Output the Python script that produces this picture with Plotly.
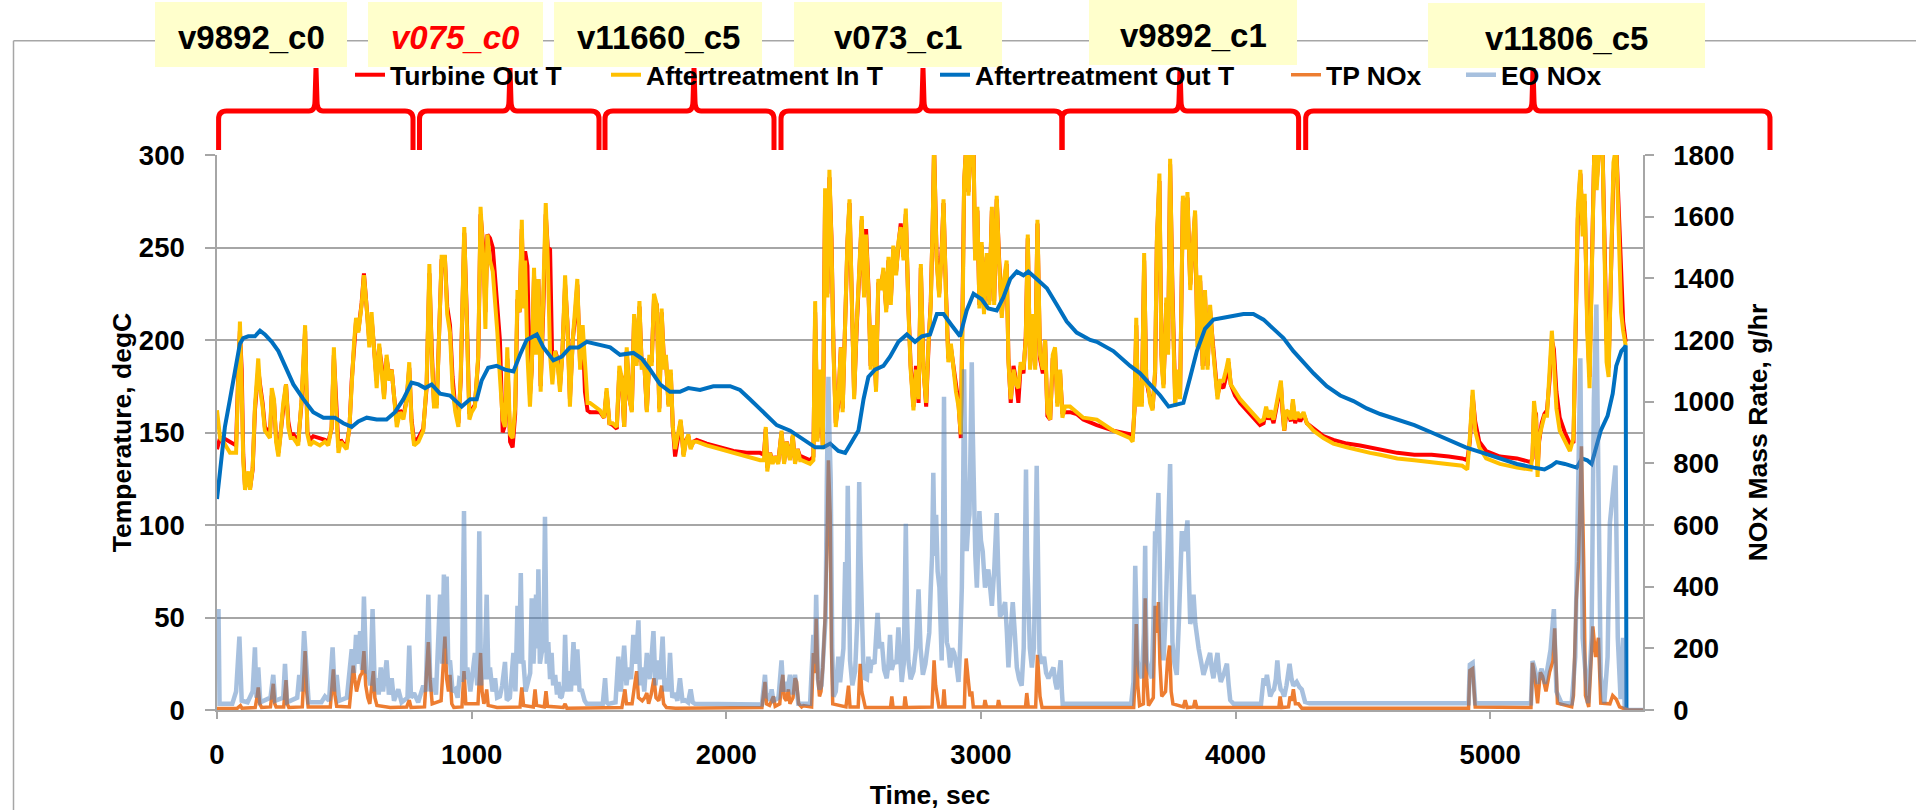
import plotly.graph_objects as go

# ---------------- data ----------------
time_T = [
    0, 12, 25, 51, 75, 84, 90, 97, 103, 110, 123, 130, 140, 149, 162, 169, 179, 188, 198, 208,
    215, 224, 232, 241, 250, 260, 271, 280, 289, 300, 310, 319, 332, 346, 355, 365, 378, 404, 424, 437,
    450, 459, 467, 477, 486, 496, 509, 520, 529, 538, 546, 555, 568, 577, 588, 598, 607, 617, 627, 637,
    647, 656, 666, 677, 686, 695, 706, 719, 732, 745, 755, 764, 774, 791, 810, 823, 834, 843, 852, 863,
    873, 882, 895, 904, 915, 925, 936, 948, 957, 965, 971, 980, 991, 1000, 1013, 1026, 1035, 1046, 1054, 1062,
    1072, 1083, 1092, 1101, 1111, 1122, 1131, 1140,
    1151, 1161, 1171, 1180, 1188, 1197, 1203, 1210, 1219, 1229, 1236, 1245, 1253, 1262, 1271, 1282, 1291, 1299, 1308, 1317,
    1328, 1337, 1347, 1356, 1367, 1376, 1386, 1397, 1406, 1415, 1426, 1436, 1445, 1455, 1465, 1485, 1504, 1520, 1530, 1541,
    1554, 1570, 1580, 1589, 1599, 1609, 1620, 1629, 1638, 1648, 1659, 1668, 1677, 1688, 1698, 1707, 1716, 1727, 1737, 1746,
    1756, 1763, 1773, 1782, 1790, 1799, 1812, 1821, 1832, 1842, 1851, 1860, 1871, 1884, 1923, 1976, 2028, 2080, 2133, 2148,
    2155, 2161, 2172, 2182, 2191, 2204, 2217, 2227, 2237, 2250, 2261, 2270, 2280, 2290,
    2296, 2329, 2342, 2349, 2358, 2368, 2379, 2388, 2397, 2405, 2413, 2421, 2430, 2440, 2450, 2457, 2467, 2476, 2484, 2493,
    2502, 2512, 2523, 2532, 2541, 2549, 2558, 2567, 2578, 2588, 2597, 2607, 2617, 2628, 2637, 2646, 2656, 2667, 2676, 2685,
    2696, 2705, 2715, 2724, 2735, 2745, 2755, 2764, 2774, 2785, 2794, 2803, 2811, 2816, 2826, 2836, 2846, 2853, 2863, 2872,
    2882, 2892, 2902, 2912, 2921, 2929, 2934, 2942, 2951, 2960, 2971, 2977, 2986, 2994, 3003, 3012, 3023, 3033, 3043, 3052,
    3062, 3071, 3082, 3091, 3101, 3108, 3117, 3128, 3138, 3147, 3156, 3167, 3176, 3184, 3193, 3204, 3213, 3222, 3232, 3243,
    3252, 3261, 3272, 3282, 3291, 3300, 3311, 3320, 3330, 3350, 3376, 3402,
    3455, 3520, 3586, 3596, 3603, 3610, 3616, 3625, 3632, 3641, 3649, 3658, 3664, 3674, 3684, 3691, 3701, 3709, 3717, 3728,
    3735, 3743, 3752, 3763, 3772, 3782, 3793, 3802, 3811, 3822, 3831, 3841, 3850, 3861, 3871, 3880, 3890, 3900, 3911, 3920,
    3929, 3939, 3952, 3963, 3972, 3981, 3998, 4018, 4044, 4070, 4096, 4110, 4120, 4129, 4138, 4149, 4162, 4170, 4178, 4184,
    4191, 4199, 4208, 4217, 4225, 4234, 4243, 4254, 4267, 4280, 4306, 4345, 4384, 4437, 4489, 4528,
    4568, 4635, 4702, 4770, 4837, 4890, 4910, 4920, 4931, 4941, 4957, 4984, 5038, 5105, 5159, 5166, 5172, 5180, 5186, 5192,
    5202, 5213, 5223, 5233, 5242, 5250, 5260, 5273, 5293, 5313, 5327, 5336, 5344, 5354, 5363, 5371, 5381, 5390, 5401, 5409,
    5418, 5428, 5441, 5448, 5457, 5465, 5475, 5484, 5495, 5504, 5514, 5522, 5532,
]

turbine_out_T = [
    141, 147, 147, 145, 143, 185, 205, 184, 138, 121, 128, 120, 130, 162, 184, 176, 166, 153, 151, 149,
    170, 166, 147, 139, 150, 164, 176, 156, 149, 149, 147, 145, 166, 205, 150, 146, 148, 147, 146, 145,
    152, 192, 168, 142, 146, 144, 143, 152, 178, 196, 210, 205, 220, 236, 220, 200, 212, 195, 178, 196,
    186, 170, 190, 180, 184, 170, 156, 162, 159, 168, 185, 157, 145, 147, 152, 174, 236, 196, 166, 166,
    205, 243, 244, 218, 208, 180, 163, 155, 178, 228, 258, 218, 160, 162, 165, 190, 268, 250, 215, 257,
    255, 250, 233, 218, 200, 150, 154, 190,
    145, 142, 160, 222, 215, 260, 225, 248, 240, 170, 184, 235, 200, 233, 175, 219, 268, 250, 249, 185,
    194, 190, 175, 192, 230, 210, 168, 200, 212, 230, 186, 205, 172, 162, 161, 161, 161, 158, 172, 155,
    154, 152, 183, 180, 153, 194, 168, 162, 212, 188, 218, 186, 190, 162, 190, 188, 222, 219, 163, 215,
    186, 190, 165, 182, 153, 137, 150, 156, 138, 146, 148, 142, 145, 146, 144, 142, 140, 139, 139, 138,
    152, 131, 139, 134, 137, 134, 150, 134, 145, 136, 148, 134, 141, 137,
    137, 135, 137, 215, 147, 182, 143, 278, 225, 288, 256, 196, 155, 166, 196, 163, 215, 253, 274, 219,
    170, 206, 243, 265, 225, 260, 229, 186, 206, 174, 231, 229, 237, 217, 243, 221, 249, 237, 251, 263,
    245, 268, 219, 186, 164, 186, 166, 239, 186, 164, 196, 221, 265, 305, 245, 225, 249, 274, 225, 190,
    196, 186, 174, 166, 147, 221, 284, 305, 280, 305, 305, 245, 270, 219, 251, 216, 245, 221, 270, 221,
    276, 245, 214, 231, 241, 190, 166, 186, 178, 166, 186, 182, 202, 255, 186, 212, 186, 263, 190, 182,
    200, 159, 157, 190, 194, 166, 182, 160, 161, 161, 160, 157,
    154, 151, 149, 147, 162, 208, 168, 176, 166, 243, 180, 172, 168, 163, 182, 253, 286, 192, 176, 220,
    195, 295, 228, 168, 182, 170, 275, 252, 277, 230, 247, 268, 200, 232, 186, 224, 186, 216, 198, 182,
    170, 176, 174, 180, 188, 176, 170, 166, 162, 158, 154, 155, 162, 157, 160, 155, 164, 168, 176, 162,
    151, 160, 160, 156, 166, 155, 159, 156, 160, 155, 152, 148, 146, 144, 143, 142,
    141, 139, 138, 138, 137, 136, 135, 145, 170, 156, 145, 140, 137, 136, 134, 136, 162, 160, 130, 145,
    155, 160, 162, 178, 200, 195, 172, 158, 150, 144, 145, 200, 265, 290, 262, 275, 210, 180, 240, 305,
    285, 305, 305, 262, 200, 185, 240, 290, 305, 272, 225, 210, 199,
]

aftertreatment_in_T = [
    162, 147, 145, 139, 139, 188, 210, 174, 135, 119, 129, 119, 131, 164, 190, 174, 164, 151, 149, 147,
    174, 168, 145, 137, 149, 166, 176, 153, 147, 147, 145, 143, 168, 208, 149, 143, 145, 143, 145, 143,
    153, 196, 164, 139, 145, 143, 141, 153, 180, 198, 212, 204, 219, 235, 217, 196, 215, 192, 174, 198,
    184, 168, 192, 178, 184, 168, 153, 161, 157, 168, 188, 155, 143, 145, 151, 176, 241, 192, 164, 164,
    208, 245, 245, 214, 204, 174, 161, 153, 180, 233, 261, 214, 157, 161, 164, 192, 272, 243, 206, 257,
    243, 237, 223, 204, 180, 157, 153, 196,
    149, 147, 164, 227, 215, 265, 217, 243, 192, 164, 184, 239, 192, 233, 172, 219, 274, 243, 192, 176,
    194, 188, 172, 192, 235, 208, 164, 200, 215, 233, 184, 208, 188, 166, 166, 164, 162, 158, 174, 155,
    155, 153, 186, 180, 153, 196, 168, 161, 214, 186, 221, 184, 190, 161, 192, 186, 225, 219, 161, 217,
    184, 192, 164, 184, 153, 141, 151, 157, 137, 145, 149, 141, 145, 145, 143, 141, 139, 137, 135, 135,
    153, 129, 139, 133, 137, 133, 151, 133, 145, 135, 149, 133, 141, 135,
    135, 133, 135, 221, 145, 184, 141, 282, 223, 292, 253, 194, 153, 168, 196, 161, 217, 255, 276, 217,
    168, 208, 243, 267, 223, 257, 227, 184, 208, 172, 233, 227, 239, 215, 245, 219, 251, 235, 253, 261,
    243, 271, 217, 184, 162, 184, 168, 241, 184, 166, 198, 219, 267, 305, 243, 223, 247, 276, 223, 188,
    198, 184, 172, 164, 149, 223, 286, 305, 278, 305, 305, 243, 272, 217, 253, 214, 247, 219, 272, 219,
    278, 243, 212, 233, 243, 188, 168, 184, 176, 174, 188, 184, 200, 257, 184, 214, 184, 265, 192, 184,
    200, 161, 157, 192, 196, 164, 184, 158, 164, 164, 161, 158,
    157, 151, 147, 145, 164, 212, 164, 178, 164, 247, 176, 174, 166, 162, 184, 255, 290, 188, 174, 223,
    192, 298, 223, 164, 184, 168, 278, 249, 280, 227, 249, 270, 196, 235, 184, 227, 184, 219, 196, 180,
    168, 178, 178, 184, 190, 176, 172, 168, 164, 160, 156, 157, 164, 158, 162, 157, 166, 170, 178, 164,
    151, 162, 161, 157, 168, 157, 161, 158, 161, 155, 151, 147, 144, 142, 140, 139,
    138, 136, 135, 134, 133, 132, 130, 147, 173, 151, 142, 136, 133, 131, 130, 138, 167, 157, 126, 147,
    153, 159, 159, 180, 205, 188, 163, 151, 145, 140, 147, 205, 271, 292, 256, 279, 205, 174, 246, 305,
    281, 305, 305, 256, 188, 180, 246, 296, 305, 267, 215, 205, 197,
]

time_at_out = [
    0, 12, 31, 51, 71, 90, 103, 123, 149, 169, 188, 215, 241, 267, 300, 339, 378, 418, 463, 496,
    529, 555, 588, 627, 666, 699, 732, 764, 791, 817, 843, 876, 915, 961, 994, 1020, 1039, 1065, 1098, 1131,
    1164, 1190, 1216, 1256, 1282, 1321, 1354, 1386, 1419, 1452, 1504, 1544, 1583, 1635, 1668, 1701, 1740, 1779, 1818, 1851,
    1897, 1949, 2015, 2054, 2093, 2146, 2198, 2251, 2303, 2349, 2382, 2408, 2440, 2467, 2493, 2519, 2539, 2558, 2584, 2617,
    2643, 2676, 2709, 2741, 2768, 2800, 2827, 2853, 2885, 2918, 2944, 2971, 3003, 3029, 3062, 3088, 3115, 3141, 3167, 3186,
    3219, 3259, 3298, 3337, 3376, 3429, 3455, 3520, 3586, 3625, 3664, 3704, 3737, 3763, 3795, 3822, 3848, 3880, 3913, 3952,
    3992, 4031, 4070, 4110, 4149, 4188, 4227, 4267, 4306, 4358, 4411, 4463, 4515, 4568, 4635, 4702, 4770, 4837, 4904, 4971,
    5038, 5105, 5172, 5213, 5240, 5260, 5293, 5340, 5360, 5381, 5398, 5414, 5434, 5461, 5481, 5495, 5515, 5528, 5532, 5535,
]

aftertreatment_out_T = [
    114, 129, 153, 168, 182, 198, 201, 202, 202, 205, 203, 199, 194, 186, 176, 168, 161, 158, 158, 155,
    153, 156, 158, 157, 157, 161, 168, 177, 176, 174, 176, 171, 170, 164, 168, 168, 178, 185, 186, 184,
    183, 192, 200, 203, 196, 189, 191, 196, 196, 199, 197, 196, 192, 193, 190, 184, 176, 172, 172, 174,
    173, 175, 175, 173, 168, 161, 154, 151, 146, 142, 142, 144, 140, 139, 145, 151, 168, 180, 184, 186,
    191, 199, 203, 199, 202, 203, 214, 214, 208, 202, 216, 225, 222, 217, 216, 223, 233, 237, 235, 237,
    233, 228, 219, 210, 204, 200, 199, 194, 186, 182, 176, 170, 164, 165, 166, 180, 194, 206, 211, 212,
    213, 214, 214, 211, 206, 201, 194, 188, 182, 175, 170, 167, 163, 160, 157, 154, 150, 146, 142, 139,
    136, 133, 131, 130, 132, 134, 133, 131, 136, 135, 133, 142, 151, 159, 171, 186, 194, 196, 197, 0,
]

# (time s, g/hr) points of the two NOx traces
eo_nox_points = [
    (0, 320), (6, 320), (10, 20), (60, 20), (75, 60), (88, 238), (97, 30), (120, 25), (140, 60), (149, 203),
    (155, 40), (162, 138), (170, 25), (210, 40), (221, 114), (228, 30), (260, 40), (267, 150), (275, 25), (315, 40),
    (323, 114), (332, 60), (342, 256), (352, 103), (360, 25), (410, 25), (424, 44), (440, 30), (454, 203), (462, 60),
    (470, 114), (480, 30), (510, 40), (529, 197), (538, 120), (546, 244), (554, 150), (562, 256), (570, 130), (577, 368),
    (586, 120), (594, 126), (602, 80), (611, 327), (620, 60), (627, 103), (635, 50), (643, 138), (652, 60), (666, 161),
    (675, 50), (686, 103), (695, 30), (712, 67), (725, 25), (748, 40), (755, 209), (762, 40), (774, 55), (790, 25),
    (810, 79), (820, 60), (830, 374), (838, 60), (847, 103), (860, 50), (876, 374), (884, 150), (891, 439), (896, 200),
    (902, 433), (908, 150), (915, 161), (925, 60), (935, 67), (945, 40), (952, 103), (962, 100), (970, 645), (976, 100),
    (983, 138), (995, 60), (1013, 185), (1022, 80), (1030, 580), (1037, 80), (1043, 161), (1050, 100), (1059, 374), (1066, 100),
    (1072, 138), (1082, 60), (1092, 103), (1100, 40), (1111, 44), (1120, 80), (1131, 156), (1138, 32), (1150, 40), (1164, 185),
    (1172, 60), (1180, 338), (1186, 150), (1193, 444), (1199, 150), (1203, 161), (1212, 60), (1223, 91), (1230, 120), (1236, 362),
    (1243, 150), (1253, 374), (1258, 200), (1262, 456), (1268, 150), (1275, 185), (1282, 200), (1288, 627), (1295, 150), (1301, 220),
    (1308, 100), (1314, 185), (1320, 80), (1328, 114), (1335, 50), (1341, 91), (1348, 40), (1354, 44), (1362, 80), (1367, 244),
    (1374, 60), (1380, 126), (1390, 60), (1400, 220), (1408, 80), (1415, 197), (1424, 60), (1432, 67), (1444, 30), (1452, 20),
    (1515, 20), (1524, 103), (1530, 25), (1537, 20), (1565, 25), (1576, 173), (1586, 60), (1599, 209), (1608, 80), (1616, 138),
    (1626, 100), (1635, 244), (1645, 150), (1655, 291), (1662, 80), (1668, 138), (1678, 60), (1688, 185), (1700, 100), (1714, 256),
    (1722, 80), (1729, 161), (1740, 100), (1750, 238), (1758, 60), (1766, 103), (1772, 60), (1779, 185), (1788, 40), (1799, 55),
    (1808, 30), (1818, 103), (1828, 30), (1838, 32), (1850, 25), (1860, 67), (1868, 25), (1877, 20), (2140, 18), (2152, 114),
    (2158, 40), (2165, 44), (2172, 30), (2178, 67), (2185, 30), (2191, 32), (2205, 40), (2217, 161), (2224, 60), (2231, 91),
    (2240, 60), (2250, 114), (2260, 50), (2270, 114), (2277, 40), (2283, 20), (2329, 20), (2342, 244), (2348, 150), (2353, 374),
    (2360, 100), (2366, 67), (2374, 80), (2382, 185), (2390, 300), (2395, 751), (2401, 1081), (2405, 900), (2410, 751), (2416, 200),
    (2421, 44), (2430, 60), (2440, 173), (2447, 90), (2454, 161), (2460, 200), (2467, 480), (2472, 300), (2477, 727), (2482, 300),
    (2486, 161), (2495, 80), (2506, 126), (2515, 300), (2522, 739), (2527, 500), (2532, 279), (2538, 150), (2545, 103), (2552, 100),
    (2558, 173), (2565, 120), (2571, 161), (2582, 150), (2594, 315), (2602, 200), (2611, 220), (2620, 130), (2630, 103), (2637, 150),
    (2643, 244), (2650, 130), (2659, 161), (2668, 150), (2676, 268), (2682, 150), (2689, 91), (2697, 150), (2705, 604), (2710, 300),
    (2715, 161), (2724, 100), (2735, 126), (2745, 200), (2755, 391), (2763, 200), (2772, 114), (2782, 150), (2790, 220), (2797, 250),
    (2803, 397), (2808, 500), (2813, 769), (2818, 500), (2824, 633), (2830, 450), (2837, 397), (2842, 250), (2846, 161), (2850, 400),
    (2855, 1016), (2860, 400), (2866, 220), (2872, 200), (2879, 138), (2887, 200), (2895, 185), (2903, 150), (2912, 91), (2918, 200),
    (2925, 397), (2930, 700), (2934, 1105), (2938, 800), (2944, 515), (2950, 600), (2955, 633), (2960, 900), (2964, 1128), (2968, 900),
    (2973, 633), (2978, 500), (2984, 397), (2989, 500), (2994, 645), (3000, 550), (3007, 515), (3012, 450), (3016, 397), (3022, 420),
    (3029, 456), (3036, 400), (3043, 338), (3052, 450), (3058, 550), (3062, 639), (3068, 450), (3075, 303), (3085, 320), (3095, 350),
    (3102, 250), (3108, 138), (3116, 250), (3125, 350), (3133, 250), (3141, 138), (3150, 100), (3160, 79), (3168, 200), (3173, 500),
    (3177, 780), (3181, 500), (3186, 279), (3192, 200), (3200, 138), (3208, 200), (3214, 500), (3219, 792), (3224, 500), (3230, 185),
    (3240, 150), (3248, 173), (3256, 120), (3265, 103), (3275, 120), (3285, 138), (3292, 90), (3298, 67), (3305, 100), (3313, 161),
    (3318, 60), (3321, 20), (3590, 20), (3599, 91), (3606, 468), (3612, 200), (3615, 161), (3624, 120), (3632, 103), (3640, 250),
    (3645, 533), (3648, 300), (3651, 161), (3660, 130), (3671, 103), (3678, 300), (3684, 580), (3690, 550), (3697, 704), (3702, 500),
    (3706, 279), (3712, 200), (3717, 161), (3725, 300), (3733, 539), (3738, 650), (3743, 798), (3748, 500), (3752, 220), (3760, 150),
    (3769, 114), (3778, 300), (3784, 450), (3789, 580), (3794, 540), (3798, 515), (3804, 560), (3811, 615), (3816, 450), (3822, 279),
    (3828, 300), (3835, 374), (3842, 280), (3848, 232), (3855, 200), (3861, 173), (3868, 130), (3874, 114), (3887, 150), (3900, 185),
    (3907, 130), (3913, 103), (3920, 140), (3929, 185), (3936, 120), (3942, 91), (3955, 120), (3966, 150), (3973, 80), (3979, 32),
    (3992, 20), (4100, 20), (4110, 103), (4117, 80), (4123, 114), (4130, 60), (4136, 44), (4144, 60), (4151, 67), (4158, 100),
    (4164, 161), (4170, 100), (4177, 67), (4184, 60), (4191, 44), (4200, 80), (4206, 120), (4212, 150), (4220, 100), (4227, 79),
    (4234, 85), (4240, 91), (4250, 75), (4260, 67), (4273, 26), (4290, 22), (4915, 22), (4920, 147), (4931, 153), (4941, 22),
    (5160, 22), (5166, 159), (5175, 134), (5186, 85), (5192, 109), (5202, 134), (5215, 85), (5226, 134), (5237, 196), (5250, 327),
    (5260, 60), (5280, 22), (5320, 22), (5334, 172), (5343, 544), (5354, 1141), (5363, 234), (5374, 109), (5384, 22), (5398, 234),
    (5407, 1004), (5417, 1315), (5425, 607), (5434, 109), (5448, 22), (5461, 172), (5470, 607), (5481, 706), (5492, 793), (5501, 234),
    (5512, 35), (5522, 234), (5528, 10), (5540, 0), (5600, 0),
]

tp_nox_points = [
    (0, 5), (80, 6), (86, 10), (92, 14), (98, 6), (150, 8), (157, 40), (162, 73), (168, 20), (175, 8),
    (210, 10), (215, 40), (221, 85), (227, 20), (232, 10), (262, 10), (266, 50), (271, 97), (276, 20), (282, 8),
    (335, 10), (340, 100), (346, 191), (352, 60), (358, 10), (445, 10), (450, 60), (457, 132), (463, 50), (470, 12),
    (520, 10), (527, 80), (535, 144), (541, 100), (548, 60), (556, 90), (562, 110), (570, 120), (577, 191), (584, 80),
    (592, 40), (600, 20), (608, 80), (614, 126), (620, 40), (628, 15), (680, 8), (745, 10), (755, 32), (762, 8),
    (815, 10), (823, 120), (830, 220), (837, 100), (845, 20), (880, 30), (887, 150), (895, 238), (902, 100), (909, 60),
    (915, 114), (922, 20), (930, 8), (962, 10), (970, 126), (977, 20), (1025, 20), (1030, 100), (1035, 185), (1041, 60),
    (1048, 20), (1055, 40), (1059, 67), (1065, 15), (1100, 8), (1190, 10), (1197, 73), (1204, 15), (1242, 10), (1249, 67),
    (1255, 15), (1285, 10), (1292, 61), (1298, 12), (1360, 8), (1367, 20), (1374, 6), (1590, 8), (1596, 40), (1602, 67),
    (1608, 20), (1630, 20), (1640, 80), (1648, 126), (1655, 40), (1670, 30), (1680, 40), (1688, 55), (1695, 20), (1705, 50),
    (1716, 103), (1724, 40), (1735, 30), (1746, 79), (1754, 20), (1765, 8), (1800, 6), (2140, 8), (2146, 50), (2152, 91),
    (2158, 20), (2170, 15), (2178, 30), (2185, 44), (2192, 12), (2210, 20), (2216, 80), (2222, 114), (2228, 40), (2236, 30),
    (2244, 67), (2250, 20), (2262, 40), (2270, 103), (2276, 91), (2284, 20), (2296, 10), (2303, 14), (2335, 10), (2342, 185),
    (2348, 120), (2353, 297), (2360, 100), (2366, 44), (2372, 60), (2379, 138), (2388, 300), (2395, 515), (2401, 810), (2405, 700),
    (2408, 633), (2413, 200), (2418, 20), (2470, 10), (2475, 40), (2480, 79), (2486, 10), (2518, 10), (2522, 80), (2526, 150),
    (2532, 60), (2539, 32), (2546, 8), (2645, 8), (2650, 44), (2655, 8), (2698, 8), (2702, 44), (2708, 8), (2808, 10),
    (2813, 100), (2816, 161), (2822, 80), (2827, 44), (2835, 10), (2850, 10), (2855, 67), (2860, 10), (2935, 10), (2938, 100),
    (2942, 167), (2950, 100), (2957, 44), (2964, 60), (2970, 10), (3012, 10), (3016, 32), (3022, 10), (3065, 10), (3069, 32),
    (3075, 10), (3175, 10), (3180, 55), (3186, 10), (3215, 10), (3222, 179), (3228, 60), (3232, 44), (3240, 8), (3600, 8),
    (3605, 100), (3610, 279), (3616, 80), (3623, 14), (3638, 20), (3645, 362), (3651, 100), (3658, 14), (3677, 40), (3684, 338),
    (3690, 250), (3697, 350), (3703, 150), (3710, 44), (3725, 60), (3733, 161), (3741, 209), (3747, 60), (3754, 20), (3795, 10),
    (3802, 32), (3810, 8), (3835, 10), (3841, 32), (3848, 8), (4170, 8), (4175, 44), (4182, 8), (4208, 10), (4214, 44),
    (4220, 30), (4227, 67), (4235, 20), (4247, 20), (4260, 6), (4915, 6), (4920, 128), (4931, 134), (4941, 10), (5160, 8),
    (5166, 153), (5175, 109), (5186, 22), (5197, 122), (5206, 109), (5219, 60), (5233, 122), (5246, 159), (5253, 265), (5264, 22),
    (5320, 10), (5327, 47), (5338, 358), (5347, 482), (5358, 855), (5367, 482), (5374, 47), (5387, 10), (5403, 271), (5414, 172),
    (5425, 234), (5434, 22), (5470, 20), (5481, 47), (5495, 35), (5508, 10), (5540, 0), (5600, 0),
]

series_names = ["Turbine Out T", "Aftertreatment In T", "Aftertreatment Out T", "TP NOx", "EO NOx"]
cycle_labels = ["v9892_c0", "v075_c0", "v11660_c5", "v073_c1", "v9892_c1", "v11806_c5"]
x_ticks = [0, 1000, 2000, 3000, 4000, 5000]

# ---------------- layout geometry (pixels) ----------------
W, H = 1916, 810
L, R, T, B = 217, 1643, 155, 710
FONT = "Liberation Sans, Arial, sans-serif"
GRID = "#A6A6A6"


def bx(x):
    return (x - L) / (R - L)


def by(y):
    return (B - y) / (B - T)


eo_t = [p[0] for p in eo_nox_points]
eo_v = [p[1] for p in eo_nox_points]
tp_t = [p[0] for p in tp_nox_points]
tp_v = [p[1] for p in tp_nox_points]

fig = go.Figure()
fig.add_trace(go.Scatter(x=time_T, y=turbine_out_T, name=series_names[0], mode="lines",
                         line=dict(color="#FF0000", width=4), legend="legend"))
fig.add_trace(go.Scatter(x=time_T, y=aftertreatment_in_T, name=series_names[1], mode="lines",
                         line=dict(color="#FFC000", width=4), legend="legend2"))
fig.add_trace(go.Scatter(x=time_at_out, y=aftertreatment_out_T, name=series_names[2], mode="lines",
                         line=dict(color="#0070C0", width=4), legend="legend3"))
fig.add_trace(go.Scatter(x=tp_t, y=tp_v, name=series_names[3], mode="lines", yaxis="y2",
                         line=dict(color="#ED7D31", width=3.5), legend="legend4"))
fig.add_trace(go.Scatter(x=eo_t, y=eo_v, name=series_names[4], mode="lines", yaxis="y2",
                         line=dict(color="rgba(79,129,189,0.5)", width=4.5), legend="legend5"))

tickfont = dict(family=FONT, size=27.5, color="black", weight="bold")
titlefont = dict(family=FONT, size=26.5, color="black", weight="bold")

legend_left = [350, 606, 935, 1286, 1461]
legend_common = dict(orientation="h", yanchor="middle", xanchor="left", bgcolor="rgba(0,0,0,0)",
                     font=dict(family=FONT, size=26.5, color="black", weight="bold"),
                     borderwidth=0, y=by(75))
legends = {}
for i, lx in enumerate(legend_left):
    key = "legend" if i == 0 else f"legend{i+1}"
    legends[key] = dict(legend_common, x=bx(lx))

shapes = []
# chart-area border (top and left)
shapes.append(dict(type="line", xref="paper", yref="paper", x0=bx(13.5), x1=bx(W + 5),
                   y0=by(40.7), y1=by(40.7), line=dict(color=GRID, width=1.5), layer="below"))
shapes.append(dict(type="line", xref="paper", yref="paper", x0=bx(13.5), x1=bx(13.5),
                   y0=by(40.7), y1=by(H + 5), line=dict(color=GRID, width=1.5), layer="below"))

# curly braces over each cycle (pixel geometry)
braces = [(218.6, 316, 413), (419.5, 510, 599), (605, 694, 774),
          (781, 923, 1062), (1062, 1180, 1298.6), (1305.7, 1533, 1770)]
yb, yh, yp, r = 150, 111, 68, 8


def P(x, y):
    return f"{bx(x):.5f},{by(y):.5f}"


for xl, xc, xr in braces:
    path = (f"M{P(xl, yb)} L{P(xl, yh + r)} Q{P(xl, yh)} {P(xl + r, yh)} "
            f"L{P(xc - 7, yh)} Q{P(xc - 1, yh)} {P(xc - 1, yh - 10)} L{P(xc, yp)} "
            f"L{P(xc + 1, yh - 10)} Q{P(xc + 1, yh)} {P(xc + 7, yh)} "
            f"L{P(xr - r, yh)} Q{P(xr, yh)} {P(xr, yh + r)} L{P(xr, yb)}")
    shapes.append(dict(type="path", xref="paper", yref="paper", path=path,
                       line=dict(color="#FF0000", width=5), layer="above"))

# label boxes
boxes = [(155, 347, 2, 67), (368, 543, 2, 67), (554, 762, 2, 67),
         (794, 1002, 2, 67), (1089, 1297, 0, 65), (1428, 1705, 3, 68)]
annotations = []
for (x0, x1, y0, y1), lab in zip(boxes, cycle_labels):
    shapes.append(dict(type="rect", xref="paper", yref="paper", x0=bx(x0), x1=bx(x1),
                       y0=by(y1), y1=by(y0), fillcolor="#FFFFCC", line=dict(width=0), layer="above"))
    red = lab == "v075_c0"
    annotations.append(dict(xref="paper", yref="paper", x=bx((x0 + x1) / 2), y=by((y0 + y1) / 2 + 3),
                            text=lab, showarrow=False, xanchor="center", yanchor="middle",
                            font=dict(family=FONT, size=33, weight="bold",
                                      color="#FF0000" if red else "black",
                                      style="italic" if red else "normal")))

fig.update_layout(
    width=W, height=H, autosize=False,
    margin=dict(l=L, r=W - R, t=T, b=H - B, pad=0),
    paper_bgcolor="white", plot_bgcolor="white",
    font=dict(family=FONT, color="black"),
    showlegend=True,
    hovermode=False,
    xaxis=dict(range=[0, 5600], tickvals=x_ticks, ticks="outside", ticklen=7, tickwidth=1.5,
               tickcolor=GRID, showline=True, linecolor=GRID, linewidth=1.5, showgrid=False,
               zeroline=False, tickfont=tickfont, ticklabelstandoff=12, automargin=False,
               title=dict(text="Time, sec", font=titlefont, standoff=18)),
    yaxis=dict(range=[0, 300], dtick=50, ticks="outside", ticklen=10, tickwidth=1.5, tickcolor=GRID,
               showline=True, linecolor=GRID, linewidth=1.5, showgrid=True, gridcolor=GRID,
               gridwidth=1.5, zeroline=False, tickfont=tickfont, ticklabelstandoff=15,
               automargin=False, title=dict(text="Temperature, degC", font=titlefont, standoff=0)),
    yaxis2=dict(range=[0, 1800], dtick=200, overlaying="y", side="right", ticks="outside",
                ticklen=9, tickwidth=1.5, tickcolor=GRID, showline=True, linecolor=GRID,
                linewidth=1.5, showgrid=False, zeroline=False, tickfont=tickfont,
                ticklabelstandoff=14, automargin=False,
                title=dict(text="NOx Mass Rate, g/hr", font=titlefont, standoff=15)),
    shapes=shapes,
    annotations=annotations,
    **legends,
)

fig.write_html("out.html")
